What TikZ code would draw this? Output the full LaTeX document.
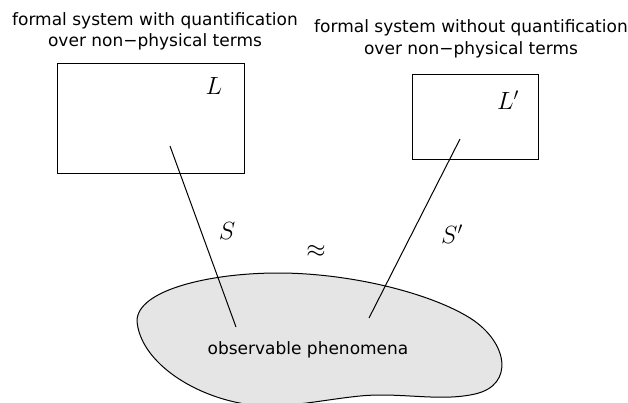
\documentclass[tikz,border=0pt]{standalone}
\usepackage{fontspec}
\setmainfont{DejaVu Sans}
\begin{document}
\begin{tikzpicture}[x=1pt,y=-1pt,line width=1pt,
  caption/.style={align=center,font=\fontsize{17}{21.5}\selectfont,inner sep=0pt},
  mathlbl/.style={font=\fontsize{25}{30}\selectfont,inner sep=0pt},
  sysbox/.style={draw,line width=1pt,inner sep=0pt},
  link/.style={draw,line width=1pt}]
\useasboundingbox (0,0) rectangle (628,403);
% blob
\path[draw,fill=black!10,line width=1pt] (137,321) .. controls (137,290) and (210,273) .. (278,273)
  .. controls (350,273) and (430,293) .. (470,318)
  .. controls (508,342) and (515,385) .. (475,394)
  .. controls (440,402) and (400,392) .. (360,396)
  .. controls (320,400) and (280,410) .. (245,404)
  .. controls (190,395) and (140,360) .. (137,321);
% boxes
\node[sysbox,minimum width=187pt,minimum height=110pt] (boxL) at (150.5,119) {};
\node[sysbox,minimum width=126pt,minimum height=85pt] (boxR) at (475,117.5) {};
% captions
\node[caption] (capL) at (155,31.5) {formal system with quantification\\over non−physical terms};
\node[caption] (capR) at (471,39) {formal system without quantification\\over non−physical terms};
\node[caption] (obs) at (308,350) {observable phenomena};
% math labels
\node[mathlbl] (lL) at (214,86) {$L$};
\node[mathlbl] (lR) at (508,100) {$L'$};
\node[mathlbl] (lS) at (227,231) {$S$};
\node[mathlbl] (lSp) at (452,234) {$S'$};
\node[mathlbl] (approx) at (316,251) {$\approx$};
% connectors
\coordinate (aL) at (170,146);
\coordinate (bL) at (236,327);
\coordinate (aR) at (460,139);
\coordinate (bR) at (369,318);
\draw[link] (aL) -- (bL);
\draw[link] (aR) -- (bR);
\end{tikzpicture}
\end{document}
